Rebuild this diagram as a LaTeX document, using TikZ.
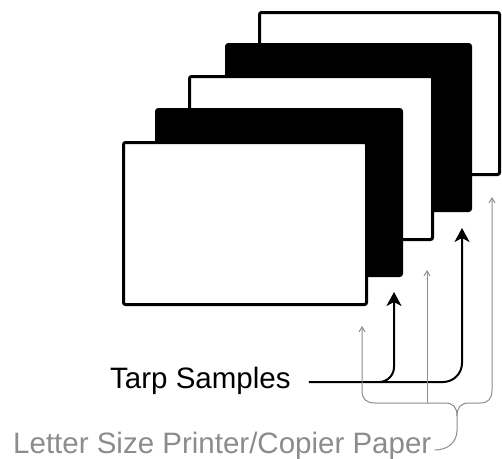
\documentclass[tikz,border=0pt]{standalone}
\usepackage{fontspec}
\setmainfont{Liberation Sans}
\usetikzlibrary{arrows.meta,calc}
\begin{document}
\begin{tikzpicture}[x=1pt,y=1pt,
  sheet/.style={rectangle, anchor=north west, inner sep=0pt, outer sep=0pt,
    line width=3pt, rounded corners=2pt, draw=black},
  whitesheet/.style={sheet, fill=white},
  blacksheet/.style={sheet, fill=black},
  tarpline/.style={line width=2pt, -{Stealth[length=14pt,width=15pt,inset=4pt]}},
  paperline/.style={draw=black!45, line width=1pt},
  paperarrow/.style={paperline, -{Straight Barb[length=5pt,width=6pt]}},
  lbl/.style={font=\fontsize{29.5pt}{32pt}\selectfont, inner sep=0pt, anchor=base west}
]
\useasboundingbox (0,0) rectangle (502,-458);

% stack of sheets, back to front
\node[whitesheet, minimum width=240pt, minimum height=162pt] (s5) at (259.5,-12.5) {};
\node[blacksheet, minimum width=244pt, minimum height=166pt] (s4) at (226.5,-44.5) {};
\node[whitesheet, minimum width=243pt, minimum height=163pt] (s3) at (189.5,-76.5) {};
\node[blacksheet, minimum width=245pt, minimum height=166pt] (s2) at (156.5,-109.5) {};
\node[whitesheet, minimum width=243pt, minimum height=162pt] (s1) at (123.5,-142.5) {};

% labels
\node[lbl] (tarp) at (110,-388) {Tarp Samples};
\node[lbl, text=black!45] (paper) at (13,-453) {Letter Size Printer/Copier Paper};

% tarp sample arrows
\coordinate (t0) at ($(tarp.base east)+(18,6)$);
\coordinate (b1) at (379,-382);
\coordinate (tip1) at (394,-292);
\coordinate (tip2) at (462,-228);
\draw[tarpline, rounded corners=19pt] (t0) -| (tip2);
\draw[tarpline, rounded corners=15pt] (b1) -| (tip1);

% paper arrows joined by a brace
\coordinate (brace) at (457,-416);
\coordinate (g1) at (362,-326);
\coordinate (g2base) at (427,-403);
\coordinate (g2) at (427,-270);
\coordinate (g3) at (492,-197);
\draw[paperarrow] (brace) .. controls (457,-407) and (453,-403) .. (445,-403)
  -- (375,-403) .. controls (366,-403) and (362,-399) .. (362,-390) -- (g1);
\draw[paperarrow] (brace) .. controls (457,-407) and (461,-403) .. (469,-403)
  -- (480,-403) .. controls (488,-403) and (492,-399) .. (492,-390) -- (g3);
\draw[paperarrow] (g2base) -- (g2);
\draw[paperline] (brace) -- (457,-430) .. controls (457,-443) and (447,-450)
  .. ($(paper.base east)+(3,3)$);
\end{tikzpicture}
\end{document}
